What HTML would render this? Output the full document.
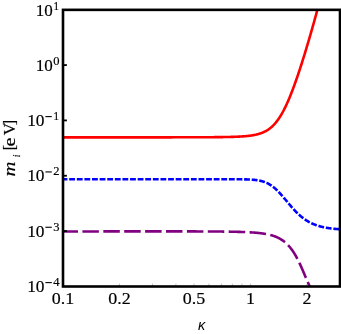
<!DOCTYPE html>
<html><head><meta charset="utf-8"><style>
html,body{margin:0;padding:0;background:#fff;}
body{width:341px;height:334px;overflow:hidden;}
svg{display:block}
.t{font-family:"Liberation Serif",serif;font-size:17.2px;fill:#000;stroke:#000;stroke-width:0.18px}
.s{font-size:12.2px}
</style></head><body>
<svg width="341" height="334" viewBox="0 0 341 334">
<rect width="341" height="334" fill="#fff"/>
<defs><clipPath id="c"><rect x="63.00" y="9.85" width="277.00" height="276.65"/></clipPath></defs>

<g clip-path="url(#c)" fill="none" stroke-width="2.6">
<path d="M63.00,137.35 L63.40,137.35 L63.80,137.35 L64.19,137.35 L64.59,137.35 L64.99,137.35 L65.39,137.35 L65.78,137.35 L66.18,137.35 L66.58,137.35 L66.98,137.35 L67.37,137.35 L67.77,137.35 L68.17,137.35 L68.57,137.35 L68.97,137.35 L69.36,137.35 L69.76,137.35 L70.16,137.35 L70.56,137.35 L70.95,137.35 L71.35,137.35 L71.75,137.35 L72.15,137.35 L72.55,137.35 L72.94,137.35 L73.34,137.35 L73.74,137.35 L74.14,137.35 L74.53,137.35 L74.93,137.35 L75.33,137.35 L75.73,137.35 L76.12,137.35 L76.52,137.35 L76.92,137.35 L77.32,137.35 L77.72,137.35 L78.11,137.35 L78.51,137.35 L78.91,137.35 L79.31,137.35 L79.70,137.35 L80.10,137.35 L80.50,137.35 L80.90,137.35 L81.29,137.35 L81.69,137.35 L82.09,137.35 L82.49,137.35 L82.89,137.35 L83.28,137.35 L83.68,137.35 L84.08,137.35 L84.48,137.35 L84.87,137.35 L85.27,137.35 L85.67,137.35 L86.07,137.35 L86.46,137.35 L86.86,137.35 L87.26,137.35 L87.66,137.35 L88.06,137.35 L88.45,137.35 L88.85,137.35 L89.25,137.35 L89.65,137.35 L90.04,137.35 L90.44,137.35 L90.84,137.35 L91.24,137.35 L91.64,137.35 L92.03,137.35 L92.43,137.35 L92.83,137.35 L93.23,137.35 L93.62,137.35 L94.02,137.35 L94.42,137.35 L94.82,137.35 L95.21,137.35 L95.61,137.35 L96.01,137.35 L96.41,137.35 L96.81,137.35 L97.20,137.35 L97.60,137.35 L98.00,137.35 L98.40,137.35 L98.79,137.35 L99.19,137.35 L99.59,137.35 L99.99,137.35 L100.38,137.35 L100.78,137.35 L101.18,137.35 L101.58,137.35 L101.98,137.35 L102.37,137.35 L102.77,137.35 L103.17,137.35 L103.57,137.35 L103.96,137.35 L104.36,137.35 L104.76,137.35 L105.16,137.35 L105.56,137.35 L105.95,137.35 L106.35,137.35 L106.75,137.35 L107.15,137.35 L107.54,137.35 L107.94,137.35 L108.34,137.35 L108.74,137.35 L109.13,137.35 L109.53,137.35 L109.93,137.35 L110.33,137.35 L110.73,137.35 L111.12,137.35 L111.52,137.35 L111.92,137.35 L112.32,137.35 L112.71,137.35 L113.11,137.35 L113.51,137.35 L113.91,137.35 L114.30,137.35 L114.70,137.35 L115.10,137.35 L115.50,137.35 L115.90,137.35 L116.29,137.35 L116.69,137.35 L117.09,137.35 L117.49,137.35 L117.88,137.35 L118.28,137.35 L118.68,137.35 L119.08,137.35 L119.47,137.35 L119.87,137.35 L120.27,137.35 L120.67,137.35 L121.07,137.35 L121.46,137.35 L121.86,137.35 L122.26,137.35 L122.66,137.35 L123.05,137.35 L123.45,137.35 L123.85,137.35 L124.25,137.35 L124.65,137.35 L125.04,137.35 L125.44,137.35 L125.84,137.35 L126.24,137.35 L126.63,137.35 L127.03,137.35 L127.43,137.35 L127.83,137.35 L128.22,137.35 L128.62,137.35 L129.02,137.35 L129.42,137.35 L129.82,137.35 L130.21,137.35 L130.61,137.35 L131.01,137.35 L131.41,137.35 L131.80,137.35 L132.20,137.35 L132.60,137.35 L133.00,137.35 L133.39,137.35 L133.79,137.35 L134.19,137.35 L134.59,137.35 L134.99,137.35 L135.38,137.35 L135.78,137.35 L136.18,137.35 L136.58,137.35 L136.97,137.35 L137.37,137.35 L137.77,137.35 L138.17,137.35 L138.57,137.35 L138.96,137.35 L139.36,137.35 L139.76,137.35 L140.16,137.35 L140.55,137.35 L140.95,137.35 L141.35,137.35 L141.75,137.35 L142.14,137.35 L142.54,137.35 L142.94,137.35 L143.34,137.35 L143.74,137.35 L144.13,137.35 L144.53,137.35 L144.93,137.35 L145.33,137.35 L145.72,137.35 L146.12,137.35 L146.52,137.35 L146.92,137.35 L147.31,137.35 L147.71,137.35 L148.11,137.35 L148.51,137.35 L148.91,137.35 L149.30,137.35 L149.70,137.35 L150.10,137.35 L150.50,137.35 L150.89,137.35 L151.29,137.35 L151.69,137.35 L152.09,137.35 L152.48,137.35 L152.88,137.35 L153.28,137.35 L153.68,137.35 L154.08,137.35 L154.47,137.35 L154.87,137.35 L155.27,137.35 L155.67,137.35 L156.06,137.35 L156.46,137.35 L156.86,137.35 L157.26,137.35 L157.66,137.35 L158.05,137.35 L158.45,137.35 L158.85,137.35 L159.25,137.35 L159.64,137.35 L160.04,137.35 L160.44,137.35 L160.84,137.35 L161.23,137.35 L161.63,137.35 L162.03,137.35 L162.43,137.35 L162.83,137.35 L163.22,137.35 L163.62,137.35 L164.02,137.35 L164.42,137.35 L164.81,137.35 L165.21,137.35 L165.61,137.35 L166.01,137.35 L166.40,137.35 L166.80,137.35 L167.20,137.35 L167.60,137.35 L168.00,137.35 L168.39,137.35 L168.79,137.35 L169.19,137.35 L169.59,137.35 L169.98,137.35 L170.38,137.35 L170.78,137.35 L171.18,137.35 L171.58,137.35 L171.97,137.35 L172.37,137.28 L172.77,137.28 L173.17,137.28 L173.56,137.28 L173.96,137.28 L174.36,137.28 L174.76,137.28 L175.15,137.28 L175.55,137.28 L175.95,137.28 L176.35,137.28 L176.75,137.28 L177.14,137.28 L177.54,137.28 L177.94,137.28 L178.34,137.28 L178.73,137.28 L179.13,137.28 L179.53,137.28 L179.93,137.28 L180.32,137.28 L180.72,137.28 L181.12,137.28 L181.52,137.28 L181.92,137.28 L182.31,137.28 L182.71,137.28 L183.11,137.28 L183.51,137.28 L183.90,137.28 L184.30,137.27 L184.70,137.27 L185.10,137.27 L185.49,137.27 L185.89,137.27 L186.29,137.27 L186.69,137.27 L187.09,137.27 L187.48,137.27 L187.88,137.27 L188.28,137.27 L188.68,137.27 L189.07,137.27 L189.47,137.27 L189.87,137.27 L190.27,137.27 L190.67,137.27 L191.06,137.27 L191.46,137.27 L191.86,137.26 L192.26,137.26 L192.65,137.26 L193.05,137.26 L193.45,137.26 L193.85,137.26 L194.24,137.26 L194.64,137.26 L195.04,137.26 L195.44,137.26 L195.84,137.26 L196.23,137.26 L196.63,137.25 L197.03,137.25 L197.43,137.25 L197.82,137.25 L198.22,137.25 L198.62,137.25 L199.02,137.25 L199.41,137.25 L199.81,137.25 L200.21,137.24 L200.61,137.24 L201.01,137.24 L201.40,137.24 L201.80,137.24 L202.20,137.24 L202.60,137.24 L202.99,137.24 L203.39,137.23 L203.79,137.23 L204.19,137.23 L204.59,137.23 L204.98,137.23 L205.38,137.23 L205.78,137.22 L206.18,137.22 L206.57,137.22 L206.97,137.22 L207.37,137.22 L207.77,137.21 L208.16,137.21 L208.56,137.21 L208.96,137.21 L209.36,137.21 L209.76,137.20 L210.15,137.20 L210.55,137.20 L210.95,137.20 L211.35,137.19 L211.74,137.19 L212.14,137.19 L212.54,137.19 L212.94,137.18 L213.33,137.18 L213.73,137.18 L214.13,137.17 L214.53,137.17 L214.93,137.17 L215.32,137.16 L215.72,137.16 L216.12,137.16 L216.52,137.15 L216.91,137.15 L217.31,137.15 L217.71,137.14 L218.11,137.14 L218.51,137.13 L218.90,137.13 L219.30,137.13 L219.70,137.12 L220.10,137.12 L220.49,137.11 L220.89,137.11 L221.29,137.10 L221.69,137.10 L222.08,137.09 L222.48,137.09 L222.88,137.08 L223.28,137.07 L223.68,137.07 L224.07,137.06 L224.47,137.06 L224.87,137.05 L225.27,137.04 L225.66,137.04 L226.06,137.03 L226.46,137.02 L226.86,137.01 L227.25,137.01 L227.65,137.00 L228.05,136.99 L228.45,136.98 L228.85,136.97 L229.24,136.96 L229.64,136.95 L230.04,136.94 L230.44,136.93 L230.83,136.92 L231.23,136.91 L231.63,136.90 L232.03,136.89 L232.42,136.88 L232.82,136.87 L233.22,136.85 L233.62,136.84 L234.02,136.83 L234.41,136.81 L234.81,136.80 L235.21,136.79 L235.61,136.77 L236.00,136.76 L236.40,136.74 L236.80,136.72 L237.20,136.71 L237.60,136.69 L237.99,136.67 L238.39,136.65 L238.79,136.63 L239.19,136.61 L239.58,136.59 L239.98,136.57 L240.38,136.55 L240.78,136.52 L241.17,136.50 L241.57,136.48 L241.97,136.45 L242.37,136.42 L242.77,136.40 L243.16,136.37 L243.56,136.34 L243.96,136.31 L244.36,136.28 L244.75,136.25 L245.15,136.21 L245.55,136.18 L245.95,136.14 L246.34,136.10 L246.74,136.07 L247.14,136.03 L247.54,135.98 L247.94,135.94 L248.33,135.90 L248.73,135.85 L249.13,135.80 L249.53,135.75 L249.92,135.70 L250.32,135.65 L250.72,135.59 L251.12,135.54 L251.52,135.48 L251.91,135.42 L252.31,135.35 L252.71,135.29 L253.11,135.22 L253.50,135.15 L253.90,135.08 L254.30,135.00 L254.70,134.92 L255.09,134.84 L255.49,134.76 L255.89,134.67 L256.29,134.58 L256.69,134.48 L257.08,134.39 L257.48,134.28 L257.88,134.18 L258.28,134.07 L258.67,133.96 L259.07,133.84 L259.47,133.72 L259.87,133.59 L260.26,133.46 L260.66,133.33 L261.06,133.19 L261.46,133.04 L261.86,132.89 L262.25,132.73 L262.65,132.57 L263.05,132.40 L263.45,132.23 L263.84,132.05 L264.24,131.86 L264.64,131.67 L265.04,131.47 L265.43,131.26 L265.83,131.05 L266.23,130.83 L266.63,130.60 L267.03,130.36 L267.42,130.11 L267.82,129.86 L268.22,129.59 L268.62,129.32 L269.01,129.04 L269.41,128.75 L269.81,128.45 L270.21,128.14 L270.61,127.82 L271.00,127.49 L271.40,127.15 L271.80,126.79 L272.20,126.43 L272.59,126.06 L272.99,125.67 L273.39,125.27 L273.79,124.86 L274.18,124.44 L274.58,124.00 L274.98,123.56 L275.38,123.10 L275.78,122.62 L276.17,122.14 L276.57,121.64 L276.97,121.13 L277.37,120.60 L277.76,120.06 L278.16,119.51 L278.56,118.94 L278.96,118.36 L279.35,117.76 L279.75,117.15 L280.15,116.52 L280.55,115.88 L280.95,115.23 L281.34,114.56 L281.74,113.88 L282.14,113.18 L282.54,112.47 L282.93,111.74 L283.33,111.00 L283.73,110.25 L284.13,109.48 L284.53,108.70 L284.92,107.90 L285.32,107.09 L285.72,106.26 L286.12,105.42 L286.51,104.57 L286.91,103.70 L287.31,102.82 L287.71,101.93 L288.10,101.03 L288.50,100.11 L288.90,99.17 L289.30,98.23 L289.70,97.27 L290.09,96.30 L290.49,95.32 L290.89,94.33 L291.29,93.33 L291.68,92.31 L292.08,91.28 L292.48,90.24 L292.88,89.19 L293.27,88.13 L293.67,87.06 L294.07,85.98 L294.47,84.89 L294.87,83.79 L295.26,82.68 L295.66,81.56 L296.06,80.43 L296.46,79.29 L296.85,78.15 L297.25,76.99 L297.65,75.83 L298.05,74.65 L298.44,73.47 L298.84,72.28 L299.24,71.08 L299.64,69.88 L300.04,68.66 L300.43,67.44 L300.83,66.21 L301.23,64.98 L301.63,63.74 L302.02,62.49 L302.42,61.23 L302.82,59.97 L303.22,58.70 L303.62,57.42 L304.01,56.14 L304.41,54.85 L304.81,53.55 L305.21,52.25 L305.60,50.95 L306.00,49.63 L306.40,48.31 L306.80,46.99 L307.19,45.66 L307.59,44.32 L307.99,42.98 L308.39,41.63 L308.79,40.28 L309.18,38.92 L309.58,37.56 L309.98,36.19 L310.38,34.82 L310.77,33.44 L311.17,32.06 L311.57,30.67 L311.97,29.28 L312.36,27.88 L312.76,26.47 L313.16,25.07 L313.56,23.65 L313.96,22.24 L314.35,20.81 L314.75,19.39 L315.15,17.96 L315.55,16.52 L315.94,15.08 L316.34,13.64 L316.74,12.19 L317.14,10.73 L317.54,9.27 L317.93,7.81 L318.33,6.34 L318.73,4.87" stroke="#ff0000"/>
<path d="M63.00,179.25 L63.40,179.25 L63.80,179.25 L64.19,179.25 L64.59,179.25 L64.99,179.25 L65.39,179.25 L65.78,179.25 L66.18,179.25 L66.58,179.25 L66.98,179.25 L67.37,179.25 L67.77,179.25 L68.17,179.25 L68.57,179.25 L68.97,179.25 L69.36,179.25 L69.76,179.25 L70.16,179.25 L70.56,179.25 L70.95,179.25 L71.35,179.25 L71.75,179.25 L72.15,179.25 L72.55,179.25 L72.94,179.25 L73.34,179.25 L73.74,179.25 L74.14,179.25 L74.53,179.25 L74.93,179.25 L75.33,179.25 L75.73,179.25 L76.12,179.25 L76.52,179.25 L76.92,179.25 L77.32,179.25 L77.72,179.25 L78.11,179.25 L78.51,179.25 L78.91,179.25 L79.31,179.25 L79.70,179.25 L80.10,179.25 L80.50,179.25 L80.90,179.25 L81.29,179.25 L81.69,179.25 L82.09,179.25 L82.49,179.25 L82.89,179.25 L83.28,179.25 L83.68,179.25 L84.08,179.25 L84.48,179.25 L84.87,179.25 L85.27,179.25 L85.67,179.25 L86.07,179.25 L86.46,179.25 L86.86,179.25 L87.26,179.25 L87.66,179.25 L88.06,179.25 L88.45,179.25 L88.85,179.25 L89.25,179.25 L89.65,179.25 L90.04,179.25 L90.44,179.25 L90.84,179.25 L91.24,179.25 L91.64,179.25 L92.03,179.25 L92.43,179.25 L92.83,179.25 L93.23,179.25 L93.62,179.25 L94.02,179.25 L94.42,179.25 L94.82,179.25 L95.21,179.25 L95.61,179.25 L96.01,179.25 L96.41,179.25 L96.81,179.25 L97.20,179.25 L97.60,179.25 L98.00,179.25 L98.40,179.25 L98.79,179.25 L99.19,179.25 L99.59,179.25 L99.99,179.25 L100.38,179.25 L100.78,179.25 L101.18,179.25 L101.58,179.25 L101.98,179.25 L102.37,179.25 L102.77,179.25 L103.17,179.25 L103.57,179.25 L103.96,179.25 L104.36,179.25 L104.76,179.25 L105.16,179.25 L105.56,179.25 L105.95,179.25 L106.35,179.25 L106.75,179.25 L107.15,179.25 L107.54,179.25 L107.94,179.25 L108.34,179.25 L108.74,179.25 L109.13,179.25 L109.53,179.25 L109.93,179.25 L110.33,179.25 L110.73,179.25 L111.12,179.25 L111.52,179.25 L111.92,179.25 L112.32,179.25 L112.71,179.25 L113.11,179.25 L113.51,179.25 L113.91,179.25 L114.30,179.25 L114.70,179.25 L115.10,179.25 L115.50,179.25 L115.90,179.25 L116.29,179.25 L116.69,179.25 L117.09,179.25 L117.49,179.25 L117.88,179.25 L118.28,179.25 L118.68,179.25 L119.08,179.25 L119.47,179.25 L119.87,179.25 L120.27,179.25 L120.67,179.25 L121.07,179.25 L121.46,179.25 L121.86,179.25 L122.26,179.25 L122.66,179.25 L123.05,179.25 L123.45,179.25 L123.85,179.25 L124.25,179.25 L124.65,179.25 L125.04,179.25 L125.44,179.25 L125.84,179.25 L126.24,179.25 L126.63,179.25 L127.03,179.25 L127.43,179.25 L127.83,179.25 L128.22,179.25 L128.62,179.25 L129.02,179.25 L129.42,179.25 L129.82,179.25 L130.21,179.25 L130.61,179.25 L131.01,179.25 L131.41,179.25 L131.80,179.25 L132.20,179.25 L132.60,179.25 L133.00,179.25 L133.39,179.25 L133.79,179.25 L134.19,179.25 L134.59,179.25 L134.99,179.25 L135.38,179.25 L135.78,179.25 L136.18,179.25 L136.58,179.25 L136.97,179.25 L137.37,179.25 L137.77,179.25 L138.17,179.25 L138.57,179.25 L138.96,179.25 L139.36,179.25 L139.76,179.25 L140.16,179.25 L140.55,179.25 L140.95,179.25 L141.35,179.25 L141.75,179.25 L142.14,179.25 L142.54,179.25 L142.94,179.25 L143.34,179.25 L143.74,179.25 L144.13,179.25 L144.53,179.25 L144.93,179.25 L145.33,179.25 L145.72,179.25 L146.12,179.25 L146.52,179.25 L146.92,179.25 L147.31,179.25 L147.71,179.25 L148.11,179.25 L148.51,179.25 L148.91,179.25 L149.30,179.25 L149.70,179.25 L150.10,179.25 L150.50,179.25 L150.89,179.25 L151.29,179.25 L151.69,179.25 L152.09,179.25 L152.48,179.25 L152.88,179.25 L153.28,179.25 L153.68,179.25 L154.08,179.25 L154.47,179.25 L154.87,179.25 L155.27,179.25 L155.67,179.25 L156.06,179.25 L156.46,179.25 L156.86,179.25 L157.26,179.25 L157.66,179.25 L158.05,179.25 L158.45,179.25 L158.85,179.25 L159.25,179.25 L159.64,179.25 L160.04,179.25 L160.44,179.25 L160.84,179.25 L161.23,179.25 L161.63,179.25 L162.03,179.25 L162.43,179.25 L162.83,179.25 L163.22,179.25 L163.62,179.25 L164.02,179.25 L164.42,179.25 L164.81,179.25 L165.21,179.25 L165.61,179.25 L166.01,179.25 L166.40,179.25 L166.80,179.25 L167.20,179.25 L167.60,179.25 L168.00,179.25 L168.39,179.25 L168.79,179.25 L169.19,179.25 L169.59,179.25 L169.98,179.25 L170.38,179.25 L170.78,179.25 L171.18,179.25 L171.58,179.25 L171.97,179.25 L172.37,179.25 L172.77,179.25 L173.17,179.25 L173.56,179.25 L173.96,179.25 L174.36,179.25 L174.76,179.25 L175.15,179.25 L175.55,179.25 L175.95,179.25 L176.35,179.25 L176.75,179.25 L177.14,179.25 L177.54,179.25 L177.94,179.25 L178.34,179.25 L178.73,179.25 L179.13,179.25 L179.53,179.25 L179.93,179.25 L180.32,179.25 L180.72,179.25 L181.12,179.25 L181.52,179.25 L181.92,179.25 L182.31,179.25 L182.71,179.25 L183.11,179.25 L183.51,179.25 L183.90,179.25 L184.30,179.25 L184.70,179.25 L185.10,179.25 L185.49,179.25 L185.89,179.25 L186.29,179.25 L186.69,179.25 L187.09,179.25 L187.48,179.25 L187.88,179.25 L188.28,179.25 L188.68,179.25 L189.07,179.25 L189.47,179.25 L189.87,179.25 L190.27,179.25 L190.67,179.25 L191.06,179.25 L191.46,179.25 L191.86,179.25 L192.26,179.25 L192.65,179.25 L193.05,179.25 L193.45,179.25 L193.85,179.25 L194.24,179.25 L194.64,179.25 L195.04,179.25 L195.44,179.25 L195.84,179.25 L196.23,179.25 L196.63,179.25 L197.03,179.25 L197.43,179.25 L197.82,179.25 L198.22,179.25 L198.62,179.25 L199.02,179.25 L199.41,179.25 L199.81,179.25 L200.21,179.25 L200.61,179.25 L201.01,179.25 L201.40,179.25 L201.80,179.25 L202.20,179.25 L202.60,179.25 L202.99,179.25 L203.39,179.25 L203.79,179.25 L204.19,179.25 L204.59,179.25 L204.98,179.25 L205.38,179.25 L205.78,179.25 L206.18,179.25 L206.57,179.25 L206.97,179.25 L207.37,179.25 L207.77,179.25 L208.16,179.25 L208.56,179.25 L208.96,179.25 L209.36,179.25 L209.76,179.25 L210.15,179.25 L210.55,179.25 L210.95,179.25 L211.35,179.25 L211.74,179.25 L212.14,179.25 L212.54,179.25 L212.94,179.25 L213.33,179.25 L213.73,179.25 L214.13,179.25 L214.53,179.25 L214.93,179.25 L215.32,179.25 L215.72,179.25 L216.12,179.25 L216.52,179.25 L216.91,179.25 L217.31,179.25 L217.71,179.25 L218.11,179.25 L218.51,179.25 L218.90,179.25 L219.30,179.25 L219.70,179.25 L220.10,179.25 L220.49,179.25 L220.89,179.25 L221.29,179.25 L221.69,179.25 L222.08,179.25 L222.48,179.25 L222.88,179.25 L223.28,179.25 L223.68,179.25 L224.07,179.25 L224.47,179.25 L224.87,179.25 L225.27,179.25 L225.66,179.25 L226.06,179.25 L226.46,179.25 L226.86,179.25 L227.25,179.26 L227.65,179.26 L228.05,179.26 L228.45,179.26 L228.85,179.26 L229.24,179.26 L229.64,179.26 L230.04,179.26 L230.44,179.26 L230.83,179.26 L231.23,179.26 L231.63,179.26 L232.03,179.26 L232.42,179.26 L232.82,179.26 L233.22,179.27 L233.62,179.27 L234.02,179.27 L234.41,179.27 L234.81,179.27 L235.21,179.27 L235.61,179.27 L236.00,179.28 L236.40,179.28 L236.80,179.28 L237.20,179.28 L237.60,179.28 L237.99,179.29 L238.39,179.29 L238.79,179.29 L239.19,179.30 L239.58,179.30 L239.98,179.30 L240.38,179.31 L240.78,179.31 L241.17,179.32 L241.57,179.32 L241.97,179.33 L242.37,179.33 L242.77,179.34 L243.16,179.34 L243.56,179.35 L243.96,179.36 L244.36,179.37 L244.75,179.37 L245.15,179.38 L245.55,179.39 L245.95,179.40 L246.34,179.41 L246.74,179.42 L247.14,179.44 L247.54,179.45 L247.94,179.46 L248.33,179.48 L248.73,179.50 L249.13,179.51 L249.53,179.53 L249.92,179.55 L250.32,179.57 L250.72,179.59 L251.12,179.62 L251.52,179.64 L251.91,179.67 L252.31,179.70 L252.71,179.73 L253.11,179.76 L253.50,179.79 L253.90,179.83 L254.30,179.86 L254.70,179.90 L255.09,179.95 L255.49,179.99 L255.89,180.04 L256.29,180.09 L256.69,180.14 L257.08,180.20 L257.48,180.26 L257.88,180.32 L258.28,180.39 L258.67,180.46 L259.07,180.53 L259.47,180.61 L259.87,180.69 L260.26,180.78 L260.66,180.87 L261.06,180.96 L261.46,181.06 L261.86,181.17 L262.25,181.28 L262.65,181.39 L263.05,181.51 L263.45,181.64 L263.84,181.77 L264.24,181.91 L264.64,182.05 L265.04,182.20 L265.43,182.36 L265.83,182.52 L266.23,182.70 L266.63,182.87 L267.03,183.06 L267.42,183.25 L267.82,183.45 L268.22,183.65 L268.62,183.87 L269.01,184.09 L269.41,184.32 L269.81,184.56 L270.21,184.80 L270.61,185.06 L271.00,185.32 L271.40,185.59 L271.80,185.87 L272.20,186.15 L272.59,186.45 L272.99,186.75 L273.39,187.06 L273.79,187.38 L274.18,187.71 L274.58,188.04 L274.98,188.39 L275.38,188.74 L275.78,189.10 L276.17,189.46 L276.57,189.84 L276.97,190.22 L277.37,190.61 L277.76,191.00 L278.16,191.40 L278.56,191.81 L278.96,192.23 L279.35,192.65 L279.75,193.07 L280.15,193.51 L280.55,193.94 L280.95,194.39 L281.34,194.83 L281.74,195.28 L282.14,195.74 L282.54,196.20 L282.93,196.66 L283.33,197.13 L283.73,197.60 L284.13,198.07 L284.53,198.54 L284.92,199.01 L285.32,199.49 L285.72,199.97 L286.12,200.45 L286.51,200.93 L286.91,201.40 L287.31,201.88 L287.71,202.36 L288.10,202.84 L288.50,203.32 L288.90,203.79 L289.30,204.26 L289.70,204.73 L290.09,205.20 L290.49,205.67 L290.89,206.13 L291.29,206.60 L291.68,207.05 L292.08,207.51 L292.48,207.96 L292.88,208.40 L293.27,208.85 L293.67,209.28 L294.07,209.72 L294.47,210.15 L294.87,210.57 L295.26,210.99 L295.66,211.40 L296.06,211.81 L296.46,212.22 L296.85,212.61 L297.25,213.01 L297.65,213.39 L298.05,213.78 L298.44,214.15 L298.84,214.52 L299.24,214.88 L299.64,215.24 L300.04,215.59 L300.43,215.94 L300.83,216.28 L301.23,216.61 L301.63,216.94 L302.02,217.26 L302.42,217.58 L302.82,217.89 L303.22,218.19 L303.62,218.49 L304.01,218.78 L304.41,219.07 L304.81,219.35 L305.21,219.62 L305.60,219.89 L306.00,220.16 L306.40,220.41 L306.80,220.67 L307.19,220.91 L307.59,221.15 L307.99,221.39 L308.39,221.62 L308.79,221.84 L309.18,222.06 L309.58,222.28 L309.98,222.49 L310.38,222.69 L310.77,222.89 L311.17,223.09 L311.57,223.28 L311.97,223.46 L312.36,223.64 L312.76,223.82 L313.16,223.99 L313.56,224.16 L313.96,224.32 L314.35,224.48 L314.75,224.64 L315.15,224.79 L315.55,224.94 L315.94,225.08 L316.34,225.22 L316.74,225.36 L317.14,225.49 L317.54,225.62 L317.93,225.75 L318.33,225.87 L318.73,225.99 L319.13,226.11 L319.52,226.22 L319.92,226.33 L320.32,226.44 L320.72,226.54 L321.11,226.64 L321.51,226.74 L321.91,226.84 L322.31,226.93 L322.71,227.02 L323.10,227.11 L323.50,227.20 L323.90,227.28 L324.30,227.36 L324.69,227.44 L325.09,227.52 L325.49,227.59 L325.89,227.66 L326.28,227.73 L326.68,227.80 L327.08,227.87 L327.48,227.93 L327.88,228.00 L328.27,228.06 L328.67,228.12 L329.07,228.17 L329.47,228.23 L329.86,228.28 L330.26,228.34 L330.66,228.39 L331.06,228.44 L331.45,228.49 L331.85,228.53 L332.25,228.58 L332.65,228.62 L333.05,228.67 L333.44,228.71 L333.84,228.75 L334.24,228.79 L334.64,228.83 L335.03,228.86 L335.43,228.90 L335.83,228.94 L336.23,228.97 L336.63,229.00 L337.02,229.03 L337.42,229.07 L337.82,229.10 L338.22,229.12 L338.61,229.15 L339.01,229.18 L339.41,229.21 L339.81,229.23 L340.20,229.26 L340.60,229.28 L341.00,229.31" stroke="#0000ff" stroke-dasharray="5.83 1.775" stroke-dashoffset="1.4"/>
<path d="M63.00,231.47 L63.40,231.47 L63.80,231.47 L64.19,231.47 L64.59,231.47 L64.99,231.46 L65.39,231.46 L65.78,231.46 L66.18,231.46 L66.58,231.46 L66.98,231.46 L67.37,231.46 L67.77,231.46 L68.17,231.46 L68.57,231.46 L68.97,231.46 L69.36,231.46 L69.76,231.46 L70.16,231.46 L70.56,231.46 L70.95,231.46 L71.35,231.46 L71.75,231.46 L72.15,231.46 L72.55,231.46 L72.94,231.46 L73.34,231.46 L73.74,231.46 L74.14,231.46 L74.53,231.46 L74.93,231.45 L75.33,231.45 L75.73,231.45 L76.12,231.45 L76.52,231.45 L76.92,231.45 L77.32,231.45 L77.72,231.45 L78.11,231.45 L78.51,231.45 L78.91,231.45 L79.31,231.45 L79.70,231.45 L80.10,231.45 L80.50,231.45 L80.90,231.45 L81.29,231.45 L81.69,231.45 L82.09,231.45 L82.49,231.45 L82.89,231.45 L83.28,231.45 L83.68,231.45 L84.08,231.45 L84.48,231.44 L84.87,231.44 L85.27,231.44 L85.67,231.44 L86.07,231.44 L86.46,231.44 L86.86,231.44 L87.26,231.44 L87.66,231.44 L88.06,231.44 L88.45,231.44 L88.85,231.44 L89.25,231.44 L89.65,231.44 L90.04,231.44 L90.44,231.44 L90.84,231.44 L91.24,231.44 L91.64,231.44 L92.03,231.44 L92.43,231.44 L92.83,231.44 L93.23,231.44 L93.62,231.44 L94.02,231.43 L94.42,231.43 L94.82,231.43 L95.21,231.43 L95.61,231.43 L96.01,231.43 L96.41,231.43 L96.81,231.43 L97.20,231.43 L97.60,231.43 L98.00,231.43 L98.40,231.43 L98.79,231.43 L99.19,231.43 L99.59,231.43 L99.99,231.43 L100.38,231.43 L100.78,231.43 L101.18,231.43 L101.58,231.43 L101.98,231.43 L102.37,231.43 L102.77,231.43 L103.17,231.43 L103.57,231.42 L103.96,231.42 L104.36,231.42 L104.76,231.42 L105.16,231.42 L105.56,231.42 L105.95,231.42 L106.35,231.42 L106.75,231.42 L107.15,231.42 L107.54,231.42 L107.94,231.42 L108.34,231.42 L108.74,231.42 L109.13,231.42 L109.53,231.42 L109.93,231.42 L110.33,231.42 L110.73,231.42 L111.12,231.42 L111.52,231.42 L111.92,231.42 L112.32,231.42 L112.71,231.42 L113.11,231.42 L113.51,231.41 L113.91,231.41 L114.30,231.41 L114.70,231.41 L115.10,231.41 L115.50,231.41 L115.90,231.41 L116.29,231.41 L116.69,231.41 L117.09,231.41 L117.49,231.41 L117.88,231.41 L118.28,231.41 L118.68,231.41 L119.08,231.41 L119.47,231.41 L119.87,231.41 L120.27,231.41 L120.67,231.41 L121.07,231.41 L121.46,231.41 L121.86,231.41 L122.26,231.41 L122.66,231.41 L123.05,231.41 L123.45,231.41 L123.85,231.41 L124.25,231.40 L124.65,231.40 L125.04,231.40 L125.44,231.40 L125.84,231.40 L126.24,231.40 L126.63,231.40 L127.03,231.40 L127.43,231.40 L127.83,231.40 L128.22,231.40 L128.62,231.40 L129.02,231.40 L129.42,231.40 L129.82,231.40 L130.21,231.40 L130.61,231.40 L131.01,231.40 L131.41,231.40 L131.80,231.40 L132.20,231.40 L132.60,231.40 L133.00,231.40 L133.39,231.40 L133.79,231.40 L134.19,231.40 L134.59,231.40 L134.99,231.40 L135.38,231.40 L135.78,231.40 L136.18,231.40 L136.58,231.40 L136.97,231.40 L137.37,231.39 L137.77,231.39 L138.17,231.39 L138.57,231.39 L138.96,231.39 L139.36,231.39 L139.76,231.39 L140.16,231.39 L140.55,231.39 L140.95,231.39 L141.35,231.39 L141.75,231.39 L142.14,231.39 L142.54,231.39 L142.94,231.39 L143.34,231.39 L143.74,231.39 L144.13,231.39 L144.53,231.39 L144.93,231.39 L145.33,231.39 L145.72,231.39 L146.12,231.39 L146.52,231.39 L146.92,231.39 L147.31,231.39 L147.71,231.39 L148.11,231.39 L148.51,231.39 L148.91,231.39 L149.30,231.39 L149.70,231.39 L150.10,231.39 L150.50,231.39 L150.89,231.39 L151.29,231.39 L151.69,231.39 L152.09,231.39 L152.48,231.39 L152.88,231.39 L153.28,231.39 L153.68,231.39 L154.08,231.39 L154.47,231.39 L154.87,231.39 L155.27,231.39 L155.67,231.39 L156.06,231.39 L156.46,231.39 L156.86,231.39 L157.26,231.39 L157.66,231.39 L158.05,231.39 L158.45,231.39 L158.85,231.39 L159.25,231.39 L159.64,231.39 L160.04,231.39 L160.44,231.39 L160.84,231.39 L161.23,231.39 L161.63,231.39 L162.03,231.39 L162.43,231.39 L162.83,231.39 L163.22,231.39 L163.62,231.39 L164.02,231.39 L164.42,231.39 L164.81,231.39 L165.21,231.39 L165.61,231.39 L166.01,231.39 L166.40,231.39 L166.80,231.39 L167.20,231.39 L167.60,231.39 L168.00,231.39 L168.39,231.39 L168.79,231.39 L169.19,231.39 L169.59,231.39 L169.98,231.39 L170.38,231.39 L170.78,231.39 L171.18,231.39 L171.58,231.39 L171.97,231.39 L172.37,231.39 L172.77,231.39 L173.17,231.39 L173.56,231.39 L173.96,231.39 L174.36,231.39 L174.76,231.39 L175.15,231.39 L175.55,231.39 L175.95,231.39 L176.35,231.39 L176.75,231.39 L177.14,231.39 L177.54,231.39 L177.94,231.39 L178.34,231.39 L178.73,231.39 L179.13,231.39 L179.53,231.39 L179.93,231.39 L180.32,231.39 L180.72,231.40 L181.12,231.40 L181.52,231.40 L181.92,231.40 L182.31,231.40 L182.71,231.40 L183.11,231.40 L183.51,231.40 L183.90,231.40 L184.30,231.40 L184.70,231.40 L185.10,231.40 L185.49,231.40 L185.89,231.40 L186.29,231.40 L186.69,231.40 L187.09,231.40 L187.48,231.40 L187.88,231.41 L188.28,231.41 L188.68,231.41 L189.07,231.41 L189.47,231.41 L189.87,231.41 L190.27,231.41 L190.67,231.41 L191.06,231.41 L191.46,231.41 L191.86,231.41 L192.26,231.41 L192.65,231.41 L193.05,231.42 L193.45,231.42 L193.85,231.42 L194.24,231.42 L194.64,231.42 L195.04,231.42 L195.44,231.42 L195.84,231.42 L196.23,231.42 L196.63,231.43 L197.03,231.43 L197.43,231.43 L197.82,231.43 L198.22,231.43 L198.62,231.43 L199.02,231.43 L199.41,231.43 L199.81,231.44 L200.21,231.44 L200.61,231.44 L201.01,231.44 L201.40,231.44 L201.80,231.44 L202.20,231.44 L202.60,231.45 L202.99,231.45 L203.39,231.45 L203.79,231.45 L204.19,231.45 L204.59,231.45 L204.98,231.46 L205.38,231.46 L205.78,231.46 L206.18,231.46 L206.57,231.46 L206.97,231.46 L207.37,231.47 L207.77,231.47 L208.16,231.47 L208.56,231.47 L208.96,231.47 L209.36,231.48 L209.76,231.48 L210.15,231.48 L210.55,231.48 L210.95,231.49 L211.35,231.49 L211.74,231.49 L212.14,231.49 L212.54,231.50 L212.94,231.50 L213.33,231.50 L213.73,231.50 L214.13,231.51 L214.53,231.51 L214.93,231.51 L215.32,231.51 L215.72,231.52 L216.12,231.52 L216.52,231.52 L216.91,231.53 L217.31,231.53 L217.71,231.53 L218.11,231.54 L218.51,231.54 L218.90,231.54 L219.30,231.55 L219.70,231.55 L220.10,231.56 L220.49,231.56 L220.89,231.56 L221.29,231.57 L221.69,231.57 L222.08,231.57 L222.48,231.58 L222.88,231.58 L223.28,231.59 L223.68,231.59 L224.07,231.60 L224.47,231.60 L224.87,231.61 L225.27,231.61 L225.66,231.62 L226.06,231.62 L226.46,231.63 L226.86,231.63 L227.25,231.64 L227.65,231.64 L228.05,231.65 L228.45,231.66 L228.85,231.66 L229.24,231.67 L229.64,231.67 L230.04,231.68 L230.44,231.69 L230.83,231.69 L231.23,231.70 L231.63,231.71 L232.03,231.71 L232.42,231.72 L232.82,231.73 L233.22,231.74 L233.62,231.75 L234.02,231.75 L234.41,231.76 L234.81,231.77 L235.21,231.78 L235.61,231.79 L236.00,231.80 L236.40,231.81 L236.80,231.82 L237.20,231.83 L237.60,231.84 L237.99,231.85 L238.39,231.86 L238.79,231.87 L239.19,231.88 L239.58,231.89 L239.98,231.90 L240.38,231.91 L240.78,231.93 L241.17,231.94 L241.57,231.95 L241.97,231.96 L242.37,231.98 L242.77,231.99 L243.16,232.00 L243.56,232.02 L243.96,232.03 L244.36,232.05 L244.75,232.07 L245.15,232.08 L245.55,232.10 L245.95,232.11 L246.34,232.13 L246.74,232.15 L247.14,232.17 L247.54,232.19 L247.94,232.21 L248.33,232.23 L248.73,232.25 L249.13,232.27 L249.53,232.29 L249.92,232.31 L250.32,232.33 L250.72,232.36 L251.12,232.38 L251.52,232.41 L251.91,232.43 L252.31,232.46 L252.71,232.48 L253.11,232.51 L253.50,232.54 L253.90,232.57 L254.30,232.60 L254.70,232.63 L255.09,232.66 L255.49,232.69 L255.89,232.73 L256.29,232.76 L256.69,232.80 L257.08,232.83 L257.48,232.87 L257.88,232.91 L258.28,232.95 L258.67,232.99 L259.07,233.04 L259.47,233.08 L259.87,233.12 L260.26,233.17 L260.66,233.22 L261.06,233.27 L261.46,233.32 L261.86,233.37 L262.25,233.42 L262.65,233.48 L263.05,233.54 L263.45,233.60 L263.84,233.66 L264.24,233.72 L264.64,233.78 L265.04,233.85 L265.43,233.92 L265.83,233.99 L266.23,234.06 L266.63,234.14 L267.03,234.22 L267.42,234.30 L267.82,234.38 L268.22,234.47 L268.62,234.56 L269.01,234.65 L269.41,234.74 L269.81,234.84 L270.21,234.94 L270.61,235.04 L271.00,235.15 L271.40,235.26 L271.80,235.37 L272.20,235.49 L272.59,235.61 L272.99,235.74 L273.39,235.87 L273.79,236.00 L274.18,236.14 L274.58,236.28 L274.98,236.43 L275.38,236.58 L275.78,236.74 L276.17,236.90 L276.57,237.07 L276.97,237.24 L277.37,237.42 L277.76,237.61 L278.16,237.80 L278.56,237.99 L278.96,238.20 L279.35,238.41 L279.75,238.62 L280.15,238.85 L280.55,239.08 L280.95,239.32 L281.34,239.56 L281.74,239.82 L282.14,240.08 L282.54,240.35 L282.93,240.63 L283.33,240.92 L283.73,241.22 L284.13,241.52 L284.53,241.84 L284.92,242.17 L285.32,242.50 L285.72,242.85 L286.12,243.21 L286.51,243.58 L286.91,243.96 L287.31,244.35 L287.71,244.76 L288.10,245.17 L288.50,245.60 L288.90,246.04 L289.30,246.49 L289.70,246.96 L290.09,247.44 L290.49,247.94 L290.89,248.44 L291.29,248.97 L291.68,249.50 L292.08,250.05 L292.48,250.62 L292.88,251.20 L293.27,251.80 L293.67,252.41 L294.07,253.03 L294.47,253.67 L294.87,254.33 L295.26,255.00 L295.66,255.69 L296.06,256.40 L296.46,257.11 L296.85,257.85 L297.25,258.60 L297.65,259.36 L298.05,260.14 L298.44,260.94 L298.84,261.75 L299.24,262.57 L299.64,263.41 L300.04,264.25 L300.43,265.12 L300.83,265.99 L301.23,266.87 L301.63,267.77 L302.02,268.67 L302.42,269.59 L302.82,270.51 L303.22,271.43 L303.62,272.37 L304.01,273.30 L304.41,274.24 L304.81,275.18 L305.21,276.13 L305.60,277.06 L306.00,278.00 L306.40,278.93 L306.80,279.85 L307.19,280.77 L307.59,281.67 L307.99,282.56 L308.39,283.44 L308.79,284.29 L309.18,285.13 L309.58,285.94 L309.98,286.73 L310.38,287.49 L310.77,288.22 L311.17,288.91 L311.57,289.58 L311.97,290.20 L312.36,290.78 L312.76,291.31 L313.16,291.80 L313.56,292.24" stroke="#800080" stroke-dasharray="16.5 4.4" stroke-dashoffset="1.5"/>
</g>
<line x1="63.0" x2="66.9" y1="231.07" y2="231.07" stroke="#000" stroke-width="1.8"/>
<line x1="63.0" x2="66.9" y1="175.74" y2="175.74" stroke="#000" stroke-width="1.8"/>
<line x1="63.0" x2="66.9" y1="120.41" y2="120.41" stroke="#000" stroke-width="1.8"/>
<line x1="63.0" x2="66.9" y1="65.08" y2="65.08" stroke="#000" stroke-width="1.8"/>
<line x1="119.45" x2="119.45" y1="285.5" y2="283.7" stroke="#000" stroke-opacity="0.35" stroke-width="0.8"/>
<line x1="152.47" x2="152.47" y1="285.5" y2="283.7" stroke="#000" stroke-opacity="0.35" stroke-width="0.8"/>
<line x1="175.90" x2="175.90" y1="285.5" y2="283.7" stroke="#000" stroke-opacity="0.35" stroke-width="0.8"/>
<line x1="194.08" x2="194.08" y1="285.5" y2="283.7" stroke="#000" stroke-opacity="0.35" stroke-width="0.8"/>
<line x1="208.92" x2="208.92" y1="285.5" y2="283.7" stroke="#000" stroke-opacity="0.35" stroke-width="0.8"/>
<line x1="221.48" x2="221.48" y1="285.5" y2="283.7" stroke="#000" stroke-opacity="0.35" stroke-width="0.8"/>
<line x1="232.35" x2="232.35" y1="285.5" y2="283.7" stroke="#000" stroke-opacity="0.35" stroke-width="0.8"/>
<line x1="241.95" x2="241.95" y1="285.5" y2="283.7" stroke="#000" stroke-opacity="0.35" stroke-width="0.8"/>
<line x1="250.53" x2="250.53" y1="285.5" y2="283.7" stroke="#000" stroke-opacity="0.35" stroke-width="0.8"/>
<line x1="306.98" x2="306.98" y1="285.5" y2="283.7" stroke="#000" stroke-opacity="0.35" stroke-width="0.8"/>
<rect x="63.0" y="9.85" width="277.00" height="276.65" fill="none" stroke="#000" stroke-width="2.6"/>
<g style="filter:grayscale(1)">
<text transform="translate(44.55,292.15) scale(1.01,1)" text-anchor="end" class="t">10</text><rect x="45.4" y="282.05" width="6.4" height="1.1" fill="#000"/><text transform="translate(59.65,286.05) scale(1.03,1)" text-anchor="end" class="t s">4</text>
<text transform="translate(44.55,236.82) scale(1.01,1)" text-anchor="end" class="t">10</text><rect x="45.4" y="226.72" width="6.4" height="1.1" fill="#000"/><text transform="translate(59.65,230.72) scale(1.03,1)" text-anchor="end" class="t s">3</text>
<text transform="translate(44.55,181.49) scale(1.01,1)" text-anchor="end" class="t">10</text><rect x="45.4" y="171.39" width="6.4" height="1.1" fill="#000"/><text transform="translate(59.65,175.39) scale(1.03,1)" text-anchor="end" class="t s">2</text>
<text transform="translate(44.55,126.16) scale(1.01,1)" text-anchor="end" class="t">10</text><rect x="45.4" y="116.06" width="6.4" height="1.1" fill="#000"/><text transform="translate(59.1,120.36) scale(0.9,1.04)" text-anchor="end" class="t s">1</text>
<text transform="translate(52.8,70.83) scale(0.99,1)" text-anchor="end" class="t">10</text><text transform="translate(59.65,64.73) scale(1.03,1)" text-anchor="end" class="t s">0</text>
<text transform="translate(52.8,15.50) scale(0.99,1)" text-anchor="end" class="t">10</text><text transform="translate(59.1,9.70) scale(0.9,1.04)" text-anchor="end" class="t s">1</text>
<text transform="translate(63.00,304.45) scale(1.045,1)" text-anchor="middle" class="t">0.1</text>
<text transform="translate(119.45,304.45) scale(1.045,1)" text-anchor="middle" class="t">0.2</text>
<text transform="translate(194.08,304.45) scale(1.045,1)" text-anchor="middle" class="t">0.5</text>
<text transform="translate(250.53,304.45) scale(1.045,1)" text-anchor="middle" class="t">1</text>
<text transform="translate(306.98,304.45) scale(1.045,1)" text-anchor="middle" class="t">2</text>
<text x="201.7" y="329.7" text-anchor="middle" style="font-family:'Liberation Sans',sans-serif;font-style:italic;font-size:14.5px">κ</text>
<text transform="translate(14.8,150.3) rotate(-90)" class="t" style="font-size:16.3px">[</text>
<text transform="translate(15.2,146.5) rotate(-90) scale(1.16,1)" class="t" style="font-size:17.6px">e</text>
<text transform="translate(15.2,135.2) rotate(-90) scale(1.03,1)" class="t" style="font-size:16.5px">V</text>
<text transform="translate(14.8,125.2) rotate(-90)" class="t" style="font-size:16.3px">]</text>
<text transform="translate(15.1,176.4) rotate(-90) scale(1.17,1)" class="t" style="font-size:17.6px;font-style:italic">m</text>
<text transform="translate(20.0,157.3) rotate(-90)" class="t" style="font-size:9.5px;font-style:italic">i</text>
</g>
</svg></body></html>
